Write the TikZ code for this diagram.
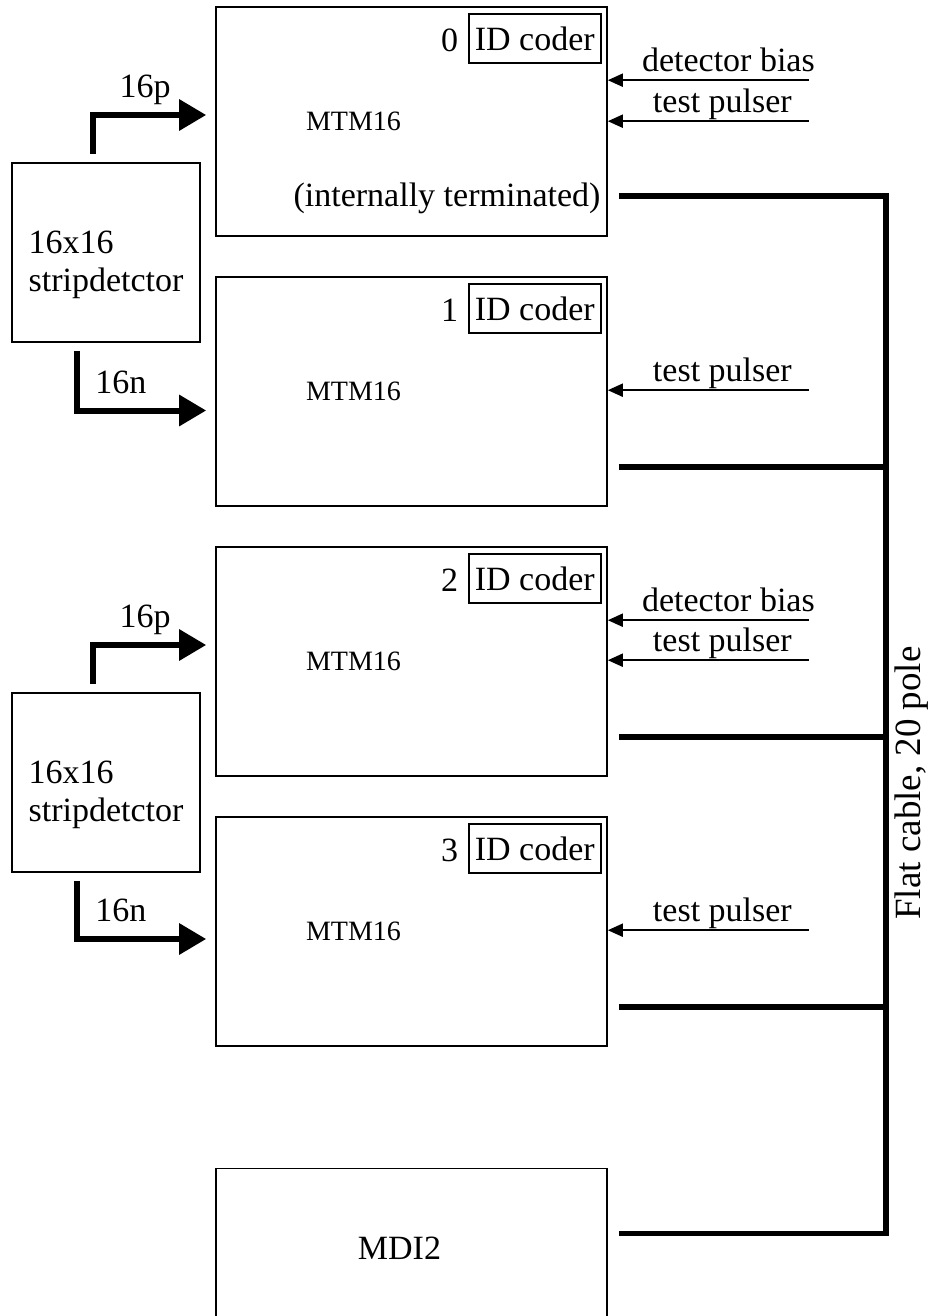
\documentclass[tikz,border=0pt]{standalone}
\usepackage{fontspec}
\setmainfont{Liberation Serif}
\usetikzlibrary{arrows.meta,positioning,calc}
\tikzset{
  module/.style   = {draw, rectangle, line width=0.8pt, inner sep=0pt,
                     minimum width=195.5pt, minimum height=114.5pt},
  detector/.style = {draw, rectangle, line width=0.8pt, inner sep=0pt,
                     minimum width=94pt, minimum height=89.5pt},
  coder/.style    = {draw, rectangle, line width=0.8pt, inner sep=0pt,
                     minimum width=66pt, minimum height=24.5pt},
  strips/.style   = {-{Triangle[length=13.5pt,width=15pt]}, line width=3pt},
  feed/.style     = {-{Triangle[length=7.5pt,width=6.5pt]}, line width=1pt},
  cable/.style    = {line width=2.8pt},
  tag/.style      = {anchor=base, yshift=8.75pt, inner sep=0pt},
  feedtag/.style  = {anchor=base, yshift=4.5pt, inner sep=0pt},
  chip/.style     = {font=\fontsize{14}{16}\selectfont}
}

\begin{document}
\begin{tikzpicture}[x=0.5pt, y=-0.5pt, font=\fontsize{17}{19}\selectfont]
  \useasboundingbox (0,0) rectangle (928,1316);

  % MTM16 modules and the MDI2
  \node[module] (mtm0) at (411.5,121.5) {};
  \node[module] (mtm1) [below=19.7pt of mtm0] {};
  \node[module] (mtm2) [below=19.7pt of mtm1] {};
  \node[module] (mtm3) [below=19.7pt of mtm2] {};
  \node[module, minimum height=80pt] (mdi) [below=60.5pt of mtm3] {};
  \node (mdilbl) at ([xshift=-6pt]mdi.center) {MDI2};

  \node[chip] (chip0) at ([xshift=-29pt]mtm0.center) {MTM16};
  \node[chip] (chip1) at ([xshift=-29pt]mtm1.center) {MTM16};
  \node[chip] (chip2) at ([xshift=-29pt]mtm2.center) {MTM16};
  \node[chip] (chip3) at ([xshift=-29pt]mtm3.center) {MTM16};
  \node[anchor=base east, inner sep=0pt] (term0) at ([xshift=-3.5pt,yshift=15pt]mtm0.south east) {(internally terminated)};

  % ID coders
  \node[coder] (idc0) at ([xshift=-36.5pt,yshift=-16.25pt]mtm0.north east) {ID coder};
  \node[coder] (idc1) at ([xshift=-36.5pt,yshift=-16.25pt]mtm1.north east) {ID coder};
  \node[coder] (idc2) at ([xshift=-36.5pt,yshift=-16.25pt]mtm2.north east) {ID coder};
  \node[coder] (idc3) at ([xshift=-36.5pt,yshift=-16.25pt]mtm3.north east) {ID coder};
  \node[anchor=east, inner sep=0pt] (num0) at ([xshift=-4.75pt,yshift=-1pt]idc0.west) {0};
  \node[anchor=east, inner sep=0pt] (num1) at ([xshift=-4.75pt,yshift=-1pt]idc1.west) {1};
  \node[anchor=east, inner sep=0pt] (num2) at ([xshift=-4.75pt,yshift=-1pt]idc2.west) {2};
  \node[anchor=east, inner sep=0pt] (num3) at ([xshift=-4.75pt,yshift=-1pt]idc3.west) {3};

  % bias and pulser inputs
  \coordinate (bias0) at ([xshift=100.5pt,yshift=-37pt]mtm0.north east);
  \coordinate (puls0) at ([xshift=100.5pt,yshift=-57.5pt]mtm0.north east);
  \coordinate (puls1) at ([xshift=100.5pt,yshift=-57pt]mtm1.north east);
  \coordinate (bias2) at ([xshift=100.5pt,yshift=-37pt]mtm2.north east);
  \coordinate (puls2) at ([xshift=100.5pt,yshift=-57pt]mtm2.north east);
  \coordinate (puls3) at ([xshift=100.5pt,yshift=-57pt]mtm3.north east);
  \draw[feed] (bias0) -- (bias0 -| mtm0.east) node[feedtag, pos=0.4] {detector bias};
  \draw[feed] (puls0) -- (puls0 -| mtm0.east) node[feedtag, pos=0.43] {test pulser};
  \draw[feed] (puls1) -- (puls1 -| mtm1.east) node[feedtag, pos=0.43] {test pulser};
  \draw[feed] (bias2) -- (bias2 -| mtm2.east) node[feedtag, pos=0.4] {detector bias};
  \draw[feed] (puls2) -- (puls2 -| mtm2.east) node[feedtag, pos=0.43] {test pulser};
  \draw[feed] (puls3) -- (puls3 -| mtm3.east) node[feedtag, pos=0.43] {test pulser};

  % strip detectors
  \node[detector] (det0) at (106,252.5) {};
  \node[align=left] (det0txt) at ([yshift=-6pt]det0.center) {16x16\\stripdetctor};
  \draw[strips] ([xshift=-6.5pt,yshift=4pt]det0.north) |- ([xshift=-4.5pt,yshift=3.25pt]mtm0.west)
    node[tag, pos=0.73] {16p};
  \draw[strips] ([xshift=-14.5pt,yshift=-4pt]det0.south) |- ([xshift=-4.5pt,yshift=-9.5pt]mtm1.west)
    node[tag, pos=0.67] {16n};

  \node[detector] (det1) at (106,782.5) {};
  \node[align=left] (det1txt) at ([yshift=-6pt]det1.center) {16x16\\stripdetctor};
  \draw[strips] ([xshift=-6.5pt,yshift=4pt]det1.north) |- ([xshift=-4.5pt,yshift=8.25pt]mtm2.west)
    node[tag, pos=0.73] {16p};
  \draw[strips] ([xshift=-14.5pt,yshift=-4pt]det1.south) |- ([xshift=-4.5pt,yshift=-3.75pt]mtm3.west)
    node[tag, pos=0.67] {16n};

  % flat cable
  \coordinate (tap0) at ([xshift=5.5pt,yshift=20.5pt]mtm0.south east);
  \coordinate (tap1) at ([xshift=5.5pt,yshift=20pt]mtm1.south east);
  \coordinate (tap2) at ([xshift=5.5pt,yshift=20pt]mtm2.south east);
  \coordinate (tap3) at ([xshift=5.5pt,yshift=20pt]mtm3.south east);
  \coordinate (tapm) at ([xshift=5.5pt,yshift=7.5pt]mdi.east);
  \coordinate (busx) at (886,0);
  \coordinate (busend) at (tapm -| busx);
  \draw[cable] (tap0) -| (busend) -- (tapm);
  \draw[cable] (tap1) -- (tap1 -| busend);
  \draw[cable] (tap2) -- (tap2 -| busend);
  \draw[cable] (tap3) -- (tap3 -| busend);
  \node[rotate=90, font=\fontsize{18.5}{20}\selectfont] (cablelbl) at (912,783) {Flat cable, 20 pole};
\end{tikzpicture}
\end{document}
